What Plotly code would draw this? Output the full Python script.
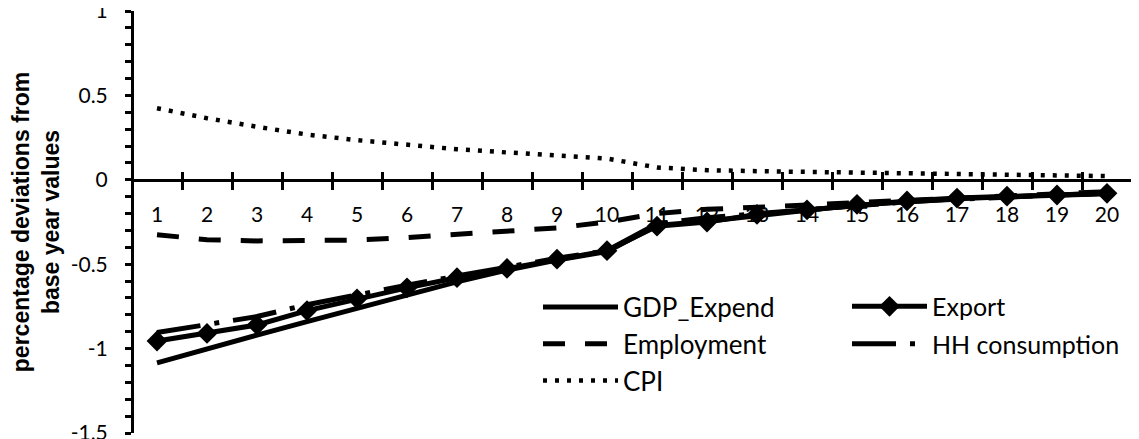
import plotly.graph_objects as go

periods = list(range(1, 21))
tick_labels = [str(p) for p in periods]
y_tickvals = [-1.5, -1, -0.5, 0, 0.5, 1]
y_ticktext = ["-1.5", "-1", "-0.5", "0", "0.5", "1"]

gdp_expend = [-1.085, -1.0, -0.92, -0.84, -0.76, -0.68, -0.605, -0.535, -0.475, -0.425,
              -0.27, -0.245, -0.21, -0.18, -0.15, -0.128, -0.112, -0.1, -0.09, -0.082]
export = [-0.955, -0.91, -0.86, -0.775, -0.705, -0.64, -0.58, -0.525, -0.47, -0.42,
          -0.275, -0.25, -0.205, -0.178, -0.145, -0.125, -0.108, -0.097, -0.09, -0.08]
employment = [-0.325, -0.355, -0.362, -0.363, -0.357, -0.342, -0.325, -0.305, -0.285, -0.25,
              -0.2, -0.175, -0.165, -0.15, -0.135, -0.123, -0.108, -0.095, -0.082, -0.07]
hh_consumption = [-0.905, -0.86, -0.81, -0.74, -0.68, -0.625, -0.57, -0.515, -0.465, -0.42,
                  -0.26, -0.225, -0.2, -0.175, -0.15, -0.13, -0.115, -0.1, -0.09, -0.08]
cpi = [0.424, 0.365, 0.314, 0.268, 0.235, 0.209, 0.181, 0.162, 0.142, 0.126,
       0.073, 0.057, 0.051, 0.047, 0.04, 0.037, 0.033, 0.03, 0.026, 0.022]

FONT = "Lato"
TITLE_FONT = "Liberation Sans"
BLACK = "#000000"
LW = 5

fig = go.Figure()
fig.add_trace(go.Scatter(x=periods, y=gdp_expend, name="GDP_Expend", mode="lines",
                         line=dict(color=BLACK, width=LW), legend="legend", legendgroup="a"))
fig.add_trace(go.Scatter(x=periods, y=export, name="Export", mode="lines+markers",
                         line=dict(color=BLACK, width=LW),
                         marker=dict(symbol="diamond", size=16, color=BLACK),
                         legend="legend2", legendgroup="b"))
fig.add_trace(go.Scatter(x=periods, y=employment, name="Employment", mode="lines",
                         line=dict(color=BLACK, width=LW, dash="22px,20px"),
                         legend="legend", legendgroup="c"))
fig.add_trace(go.Scatter(x=periods, y=hh_consumption, name="HH consumption", mode="lines",
                         line=dict(color=BLACK, width=LW, dash="44px,14px,5px,14px"),
                         legend="legend2", legendgroup="d"))
fig.add_trace(go.Scatter(x=periods, y=cpi, name="CPI", mode="lines",
                         line=dict(color=BLACK, width=4.5, dash="4px,8px"),
                         legend="legend", legendgroup="e"))

half_ticks = [p + 0.5 for p in periods]
xpos = 1.5 / 2.5

# the page body keeps its default 8px margin, so the figure is 8px smaller
fig.update_layout(
    width=1131, height=431,
    margin=dict(l=124, r=7, t=3, b=6, autoexpand=False),
    paper_bgcolor="white", plot_bgcolor="white",
    font=dict(family=FONT, color=BLACK),
    showlegend=True,
    xaxis=dict(range=[0.5, 20.5], anchor="free", position=xpos, automargin=False,
               showline=True, linewidth=3, linecolor=BLACK,
               tickmode="array", tickvals=half_ticks, showticklabels=False,
               ticks="outside", ticklen=8, tickwidth=2.5, tickcolor=BLACK,
               showgrid=False, zeroline=False),
    xaxis2=dict(range=[0.5, 20.5], overlaying="x", anchor="free", position=xpos, automargin=False,
                showline=False, tickmode="array", tickvals=periods, ticktext=tick_labels,
                ticks="", ticklabelstandoff=20, tickfont=dict(family=FONT, size=21, color=BLACK),
                ticklabeloverflow="allow",
                showgrid=False, zeroline=False),
    xaxis3=dict(range=[0.5, 20.5], overlaying="x", anchor="free", position=xpos, automargin=False,
                showline=False, tickmode="array", tickvals=half_ticks, showticklabels=False,
                ticks="inside", ticklen=8, tickwidth=2.5, tickcolor=BLACK,
                showgrid=False, zeroline=False),
    yaxis=dict(range=[-1.5, 1], anchor="free", position=0, automargin=False,
               showline=True, linewidth=3, linecolor=BLACK,
               tickmode="array", tickvals=y_tickvals, ticktext=y_ticktext,
               ticks="outside", ticklen=6, tickwidth=2.5, tickcolor=BLACK,
               minor=dict(dtick=0.1, tick0=0, ticks="outside", ticklen=6, tickwidth=2.5, tickcolor=BLACK),
               tickfont=dict(family=FONT, size=21, color=BLACK), ticklabelstandoff=13,
               ticklabeloverflow="allow",
               showgrid=False, zeroline=False,
               title=dict(text="<b>percentage deviations from<br>base year values</b>",
                          font=dict(family=TITLE_FONT, size=23, color=BLACK),
                          standoff=14)),
    legend=dict(x=0.406, y=0.354, xanchor="left", yanchor="top",
                bgcolor="rgba(0,0,0,0)", font=dict(family=FONT, size=26, color=BLACK),
                itemwidth=75, tracegroupgap=0, traceorder="grouped"),
    legend2=dict(x=0.715, y=0.354, xanchor="left", yanchor="top",
                 bgcolor="rgba(0,0,0,0)", font=dict(family=FONT, size=25, color=BLACK),
                 itemwidth=75, tracegroupgap=2, traceorder="grouped"),
)

fig.add_trace(go.Scatter(x=[], y=[], xaxis="x2", showlegend=False, hoverinfo="skip"))
fig.add_trace(go.Scatter(x=[], y=[], xaxis="x3", showlegend=False, hoverinfo="skip"))

fig.write_html("out.html")
